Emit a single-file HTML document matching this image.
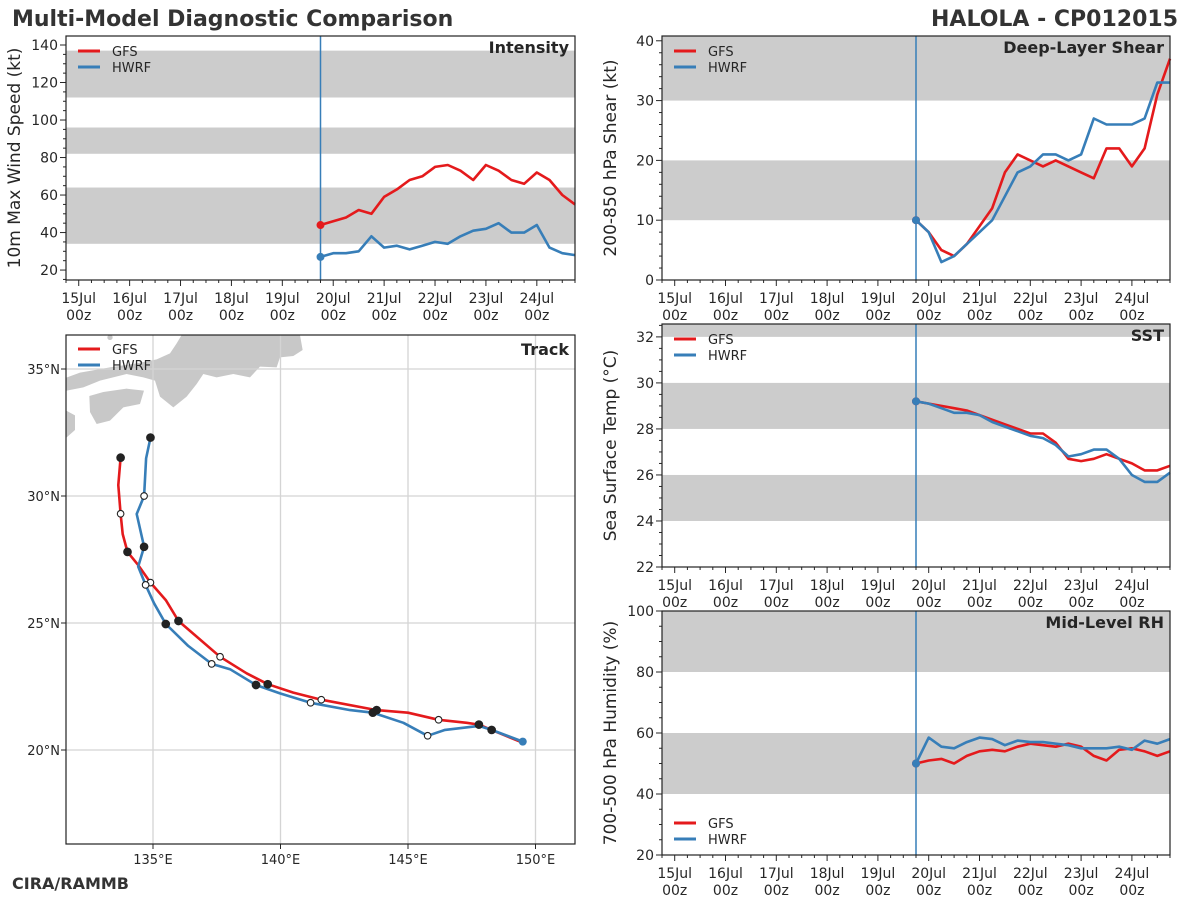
<!DOCTYPE html>
<html><head><meta charset="utf-8"><style>
body{margin:0;background:#fff;}
svg{display:block;font-family:"DejaVu Sans","Liberation Sans",sans-serif;}
</style></head><body>
<svg id="chart" width="1200" height="900" viewBox="0 0 1200 900" xmlns="http://www.w3.org/2000/svg">
<text x="12" y="26" font-size="22" font-weight="bold" fill="#333">Multi-Model Diagnostic Comparison</text>
<text x="1178" y="26" font-size="22" font-weight="bold" fill="#333" text-anchor="end">HALOLA - CP012015</text>
<text x="12" y="889" font-size="16" font-weight="bold" fill="#333">CIRA/RAMMB</text>
</svg>
<script>
const days=['15Jul','16Jul','17Jul','18Jul','19Jul','20Jul','21Jul','22Jul','23Jul','24Jul'];
const initDay=4.75;
const intensityGFS=[44,46,48,52,50,59,63,68,70,75,76,73,68,76,73,68,66,72,68,60,55];
const intensityHWRF=[27,29,29,30,38,32,33,31,33,35,34,38,41,42,45,40,40,44,32,29,28];
const shearGFS=[10,8,5,4,6,9,12,18,21,20,19,20,19,18,17,22,22,19,22,31,37];
const shearHWRF=[10,8,3,4,6,8,10,14,18,19,21,21,20,21,27,26,26,26,27,33,33];
const sstGFS=[29.2,29.1,29.0,28.9,28.8,28.6,28.4,28.2,28.0,27.8,27.8,27.4,26.7,26.6,26.7,26.9,26.7,26.5,26.2,26.2,26.4];
const sstHWRF=[29.2,29.1,28.9,28.7,28.7,28.6,28.3,28.1,27.9,27.7,27.6,27.3,26.8,26.9,27.1,27.1,26.7,26.0,25.7,25.7,26.1];
const rhGFS=[50,51,51.5,50,52.5,54,54.5,54,55.5,56.5,56,55.5,56.5,55.5,52.5,51,54.5,55,54,52.5,54];
const rhHWRF=[50,58.5,55.5,55,57,58.5,58,56,57.5,57,57,56.5,56,55,55,55,55.5,54.5,57.5,56.5,58];
const gfsTrackLon=[149.39,148.28,147.78,147.3,146.2,145.0,143.77,141.6,140.5,139.5,138.67,137.63,136.0,135.5,134.9,134.42,134.0,133.81,133.73,133.64,133.73];
const gfsTrackLat=[20.33,20.79,21.0,21.07,21.19,21.47,21.57,21.98,22.26,22.59,23.02,23.67,25.08,25.9,26.59,27.28,27.8,28.5,29.3,30.43,31.51];
const hwrfTrackLon=[149.5,148.28,147.78,146.45,145.77,144.82,143.62,142.73,141.18,139.98,139.04,138.02,137.3,136.38,135.5,135.04,134.71,134.42,134.65,134.36,134.65,134.73,134.9];
const hwrfTrackLat=[20.33,20.79,20.95,20.79,20.56,21.07,21.47,21.57,21.86,22.23,22.56,23.18,23.39,24.1,24.96,25.78,26.5,27.22,28.0,29.29,30.0,31.48,32.3];
const gfsMarkIdx=[2,4,6,7,9,11,12,14,16,18,20];
const gfsMarkOpen=[0,1,0,1,0,1,0,1,0,1,0];
const hwrfMarkIdx=[1,4,6,8,10,12,14,16,18,20,22];
const hwrfMarkOpen=[0,1,0,1,0,1,0,1,0,1,0];
const latTicks=[20,25,30,35];
const lonTicks=[135,140,145,150];

const RED='#e41a1c',BLUE='#377eb8',GRAY='#cccccc',TXT='#262626';
const svg=document.getElementById('chart');
const NS='http://www.w3.org/2000/svg';
function mk(tag,attrs,parent){const e=document.createElementNS(NS,tag);for(const k in attrs)e.setAttribute(k,attrs[k]);(parent||svg).appendChild(e);return e;}

function legend(g,x,y){
  const l1=mk('line',{x1:x,y1:y,x2:x+22,y2:y,stroke:RED,'stroke-width':3},g);
  
  
  const t1=mk('text',{x:x+34,y:y+5,'font-size':13,fill:TXT},g);t1.textContent='GFS';
  
  
  const l2=mk('line',{x1:x,y1:y+16,x2:x+22,y2:y+16,stroke:BLUE,'stroke-width':3},g);
  
  
  const t2=mk('text',{x:x+34,y:y+21,'font-size':13,fill:TXT},g);t2.textContent='HWRF';
  
  
}

function panel(o){
  const g=mk('g',{});
  
  
  const L=o.x0,R=o.x1,T=o.y0,B=o.y1;
  const xs=d=>L+(d+0.25)/10*(R-L);
  const ys=v=>B-(v-o.ymin)/(o.ymax-o.ymin)*(B-T);
  o.bands.forEach(b=>{
    const r=mk('rect',{x:L,y:ys(Math.min(b[1],o.ymax)),width:R-L,height:ys(b[0])-ys(Math.min(b[1],o.ymax)),fill:GRAY},g);
    
    
  });
  for(let v=Math.ceil(o.ymin/o.minor)*o.minor;v<=o.ymax+1e-6;v+=o.minor){
    const major=Math.abs(v/o.major-Math.round(v/o.major))<1e-6;
    mk('line',{x1:L-(major?6:3),x2:L,y1:ys(v),y2:ys(v),stroke:TXT,'stroke-width':1},g);
    if(major){const t=mk('text',{x:L-8,y:ys(v)+5,'font-size':14,fill:TXT,'text-anchor':'end'},g);t.textContent=String(Math.round(v));
      
      }
  }
  for(let d=-0.25;d<=9.75;d+=0.25){
    const major=Math.abs(d-Math.round(d))<1e-6;
    mk('line',{x1:xs(d),x2:xs(d),y1:B,y2:B+(major?6:3),stroke:TXT,'stroke-width':1},g);
  }
  if(o.xlabels){days.forEach((lab,i)=>{
    const t=mk('text',{x:xs(i),y:B+23,'font-size':14,fill:TXT,'text-anchor':'middle'},g);t.textContent=lab;
    
    
    const t2=mk('text',{x:xs(i),y:B+40,'font-size':14,fill:TXT,'text-anchor':'middle'},g);t2.textContent='00z';
    
    
  });}
  const yl=mk('text',{x:0,y:0,'font-size':17,fill:TXT,'text-anchor':'middle',transform:`translate(${L-46},${(T+B)/2}) rotate(-90)`},g);
  yl.textContent=o.ylabel;
  
  
  const il=mk('line',{x1:xs(initDay),x2:xs(initDay),y1:T,y2:B,stroke:BLUE,'stroke-width':1.5},g);
  
  
  [[o.gfs,RED,'gfs-series'],[o.hwrf,BLUE,'hwrf-series']].forEach(s=>{
    const pts=s[0].map((v,i)=>xs(initDay+i*0.25).toFixed(1)+','+ys(v).toFixed(1)).join(' ');
    const p=mk('polyline',{points:pts,fill:'none',stroke:s[1],'stroke-width':2.6,'stroke-linejoin':'round'},g);
    
    
    const c=mk('circle',{cx:xs(initDay),cy:ys(s[0][0]),r:4,fill:s[1]},g);
    
    
  });
  const fr=mk('rect',{x:L,y:T,width:R-L,height:B-T,fill:'none',stroke:'#222','stroke-width':1.2},g);
  
  
  const tt=mk('text',{x:R-6,y:T+17,'font-size':16,'font-weight':'bold',fill:TXT,'text-anchor':'end'},g);
  tt.textContent=o.title;
  
  
  legend(g,L+12,o.legendY||T+15);
}

panel({name:'intensity-panel',x0:66,x1:575,y0:36,y1:280,ymin:14.7,ymax:144.8,major:20,minor:5,
  bands:[[34,64],[82,96],[112,137]],ylabel:'10m Max Wind Speed (kt)',title:'Intensity',gfs:intensityGFS,hwrf:intensityHWRF,xlabels:true});
panel({name:'shear-panel',x0:662,x1:1170,y0:36,y1:280,ymin:0,ymax:40.8,major:10,minor:2,
  bands:[[10,20],[30,41]],ylabel:'200-850 hPa Shear (kt)',title:'Deep-Layer Shear',gfs:shearGFS,hwrf:shearHWRF,xlabels:true});
panel({name:'sst-panel',x0:662,x1:1170,y0:324,y1:567,ymin:22,ymax:32.56,major:2,minor:0.5,
  bands:[[24,26],[28,30],[32,33]],ylabel:'Sea Surface Temp (°C)',title:'SST',gfs:sstGFS,hwrf:sstHWRF,xlabels:true});
panel({name:'rh-panel',x0:662,x1:1170,y0:611,y1:855,ymin:20,ymax:100,major:20,minor:5,
  bands:[[40,60],[80,100]],ylabel:'700-500 hPa Humidity (%)',title:'Mid-Level RH',gfs:rhGFS,hwrf:rhHWRF,xlabels:true,legendY:823});

(function(){
  const L=66,R=575,T=335,B=844;
  const lx=lon=>153+(lon-135)*25.5;
  const ly=lat=>750-(lat-20)*25.4;
  const g=mk('g',{});
  
  
  const cp=mk('clipPath',{id:'mapclip'},g);
  mk('rect',{x:L,y:T,width:R-L,height:B-T},cp);
  const inner=mk('g',{'clip-path':'url(#mapclip)'},g);
  const land=mk('g',{transform:'translate(60,330) scale(0.3333)',fill:'#c8c8c8'},inner);
  
  
  mk('polygon',{points:'0,150 60,128 150,112 230,100 290,88 330,70 350,40 365,15 720,15 728,60 700,78 660,82 650,112 600,110 570,142 520,132 470,142 430,132 410,162 380,200 340,232 300,200 285,152 250,142 200,132 120,152 70,172 20,182 0,186'},land);
  mk('circle',{cx:150,cy:22,r:8},land);
  mk('polygon',{points:'88,198 130,186 200,176 252,182 240,222 190,232 150,272 110,282 90,246'},land);
  mk('polygon',{points:'0,232 45,256 45,300 20,322 0,332'},land);
  latTicks.forEach(v=>{
    mk('line',{x1:L,x2:R,y1:ly(v),y2:ly(v),stroke:'#d4d4d4','stroke-width':1.3},inner);
    mk('line',{x1:L-5,x2:L,y1:ly(v),y2:ly(v),stroke:TXT},g);
    const t=mk('text',{x:L-6,y:ly(v)+5,'font-size':13,fill:TXT,'text-anchor':'end'},g);t.textContent=v+'°N';
    
    
  });
  lonTicks.forEach(v=>{
    mk('line',{x1:lx(v),x2:lx(v),y1:T,y2:B,stroke:'#d4d4d4','stroke-width':1.3},inner);
    mk('line',{x1:lx(v),x2:lx(v),y1:B,y2:B+5,stroke:TXT},g);
    const t=mk('text',{x:lx(v),y:B+20,'font-size':13,fill:TXT,'text-anchor':'middle'},g);t.textContent=v+'°E';
    
    
  });
  [[gfsTrackLon,gfsTrackLat,RED,'gfs-track'],[hwrfTrackLon,hwrfTrackLat,BLUE,'hwrf-track']].forEach(s=>{
    const pts=s[0].map((lon,i)=>lx(lon).toFixed(1)+','+ly(s[1][i]).toFixed(1)).join(' ');
    const p=mk('polyline',{points:pts,fill:'none',stroke:s[2],'stroke-width':2.6,'stroke-linejoin':'round'},inner);
    
    
  });
  [[gfsTrackLon,gfsTrackLat,gfsMarkIdx,gfsMarkOpen],[hwrfTrackLon,hwrfTrackLat,hwrfMarkIdx,hwrfMarkOpen]].forEach(s=>{
    s[2].forEach((idx,k)=>{
      const c=mk('circle',{cx:lx(s[0][idx]),cy:ly(s[1][idx]),r:s[3][k]?3.3:3.8,fill:s[3][k]?'#fff':'#222',stroke:'#222','stroke-width':1.1},inner);
      
      
    });
  });
  const st=mk('circle',{cx:lx(hwrfTrackLon[0]),cy:ly(hwrfTrackLat[0]),r:4,fill:BLUE},inner);
  
  
  const fr=mk('rect',{x:L,y:T,width:R-L,height:B-T,fill:'none',stroke:'#222','stroke-width':1.2},g);
  
  
  const tt=mk('text',{x:R-6,y:T+20,'font-size':16,'font-weight':'bold',fill:TXT,'text-anchor':'end'},g);
  tt.textContent='Track';
  
  
  legend(g,L+12,T+14);
})();
</script>
</body></html>
